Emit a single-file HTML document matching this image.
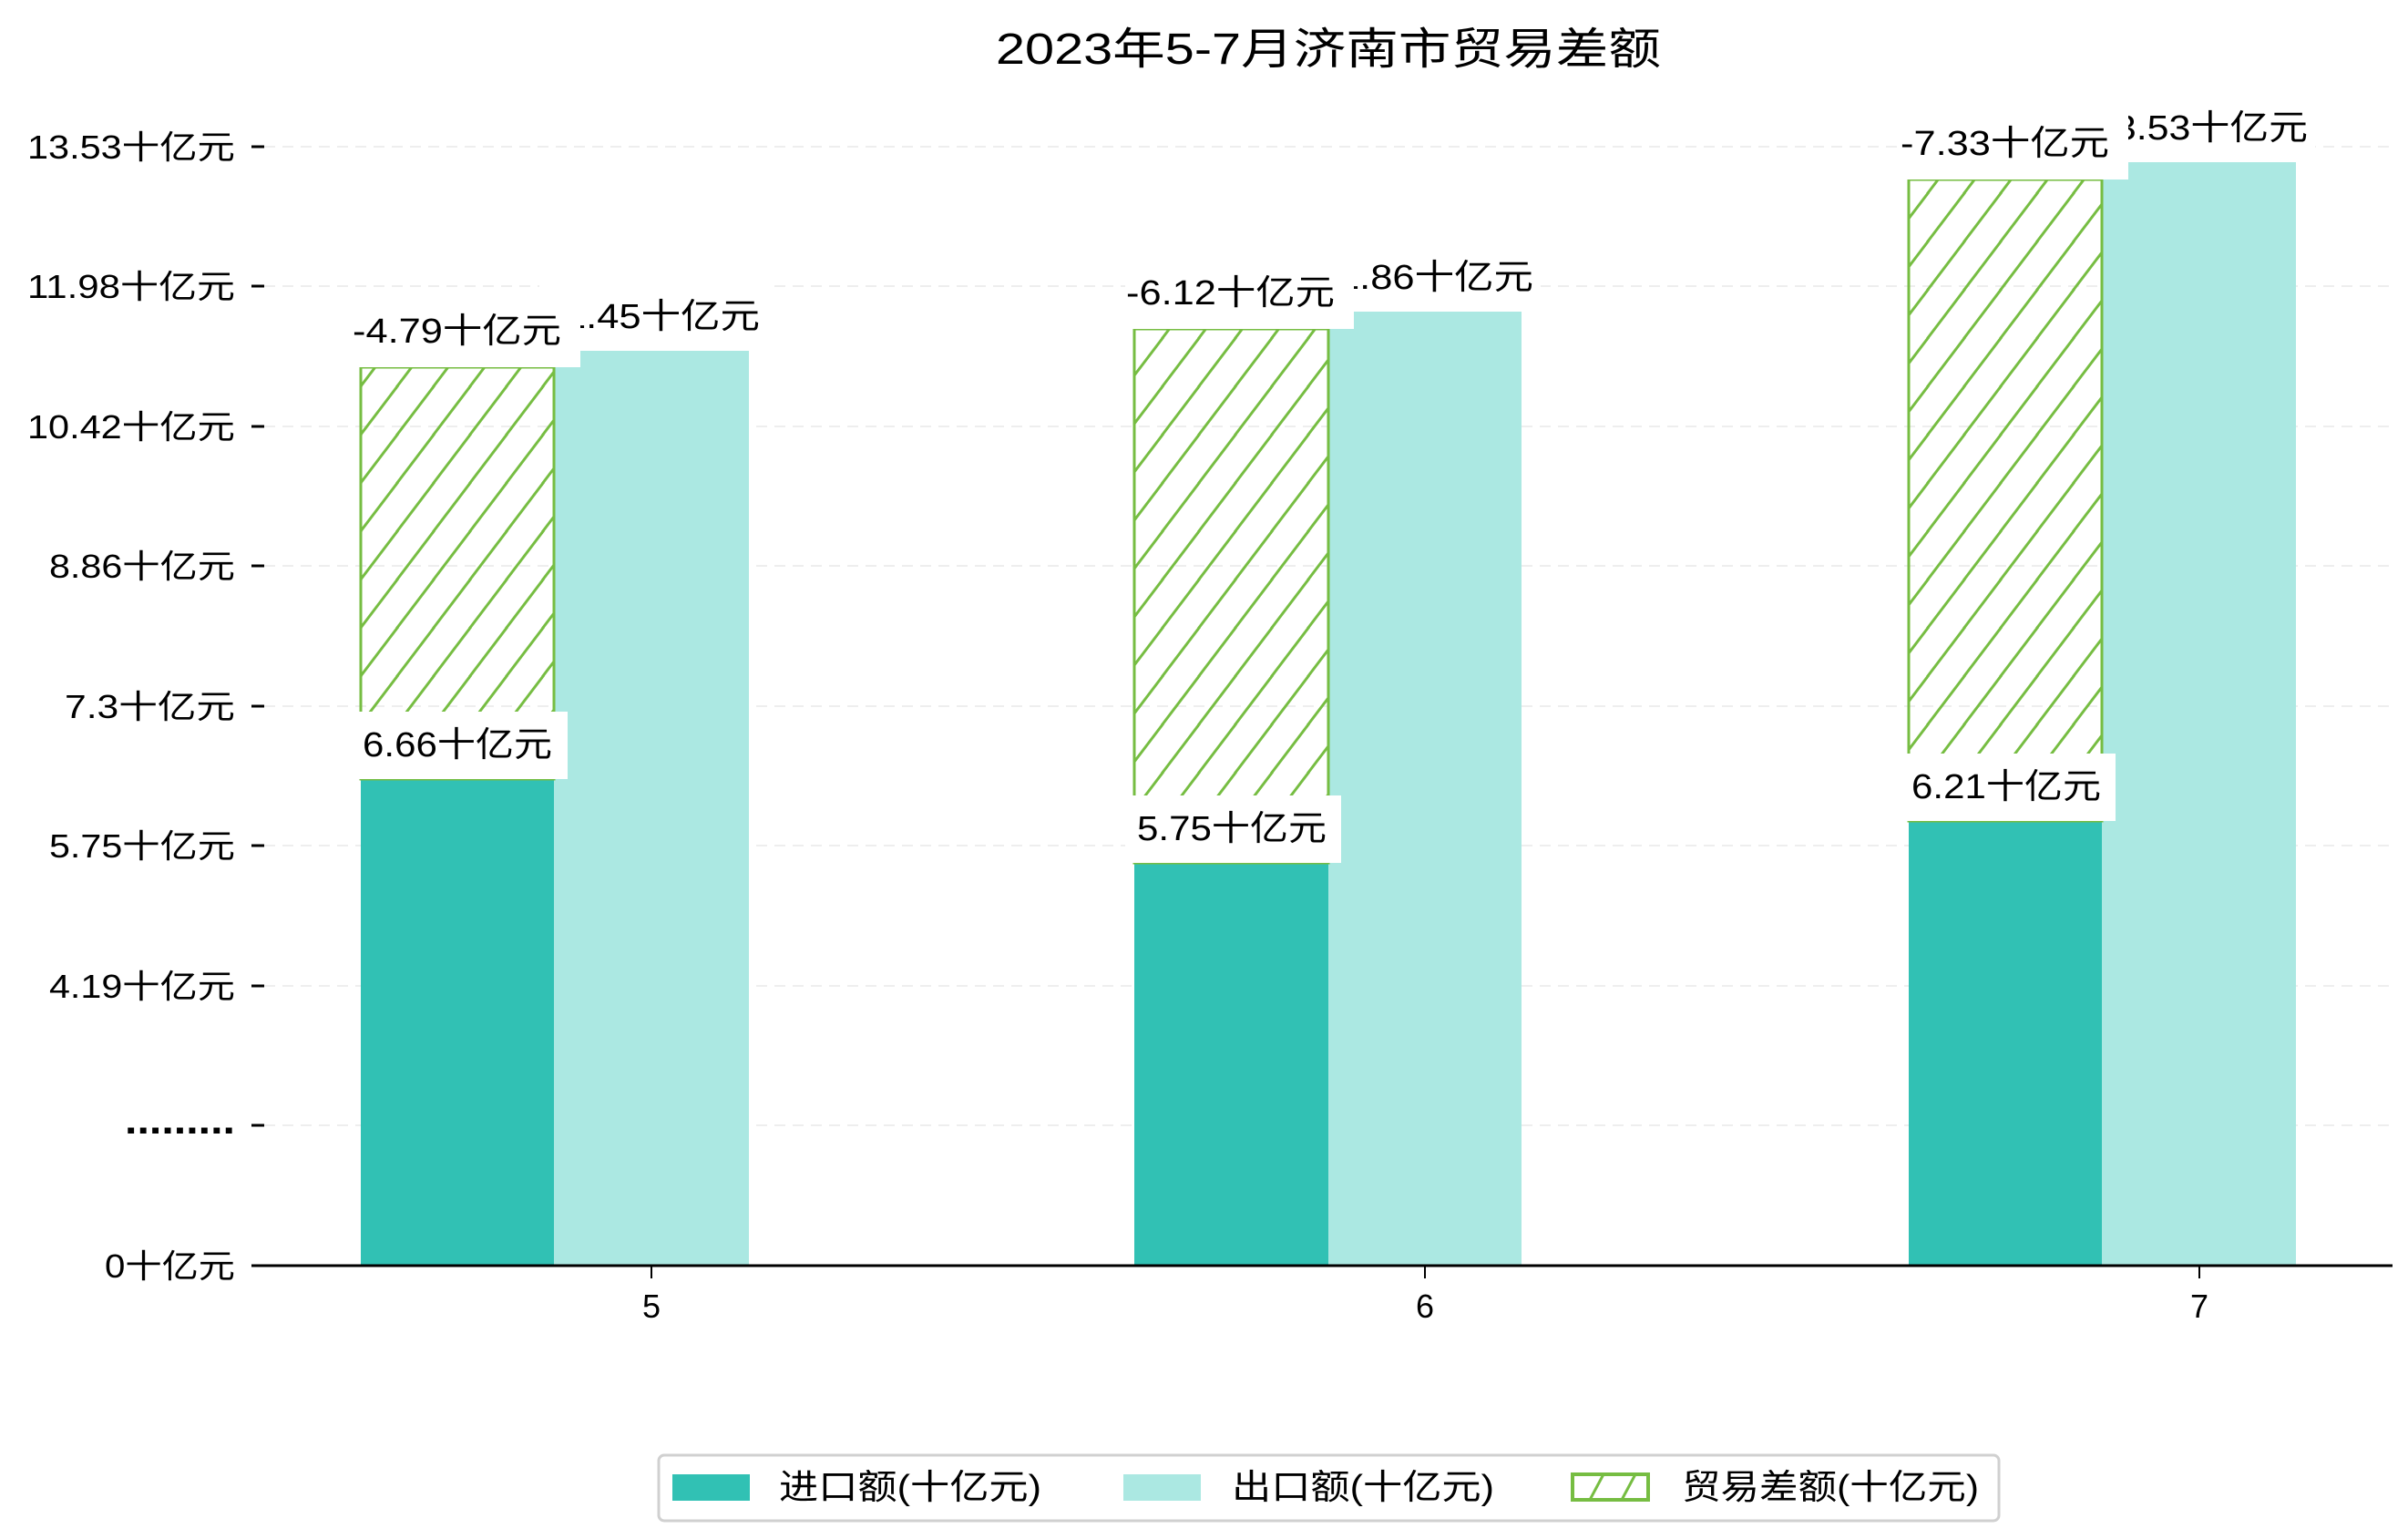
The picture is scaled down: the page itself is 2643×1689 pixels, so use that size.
<!DOCTYPE html>
<html><head><meta charset="utf-8"><style>
html,body{margin:0;padding:0;background:#fff;}
svg{display:block;}
text{font-family:"Liberation Sans","Noto Sans CJK SC",sans-serif;fill:#000;}
</style></head><body>
<svg width="2643" height="1689" viewBox="0 0 2643 1689" xmlns="http://www.w3.org/2000/svg">
<defs>
<pattern id="h" patternUnits="userSpaceOnUse" width="40" height="53" x="396" y="0">
<line x1="-10" y1="66" x2="50" y2="-13" stroke="#76bd42" stroke-width="3"/>
<line x1="-50" y1="66" x2="10" y2="-13" stroke="#76bd42" stroke-width="3"/>
<line x1="30" y1="66" x2="90" y2="-13" stroke="#76bd42" stroke-width="3"/>
</pattern>
</defs>
<rect width="2643" height="1689" fill="#fff"/>
<text x="1093" y="70" font-size="48" textLength="730" lengthAdjust="spacingAndGlyphs">2023年5-7月济南市贸易差额</text>
<g stroke="#eeeeee" stroke-width="2" stroke-dasharray="12,8">
<line x1="290" y1="161" x2="2626" y2="161"/>
<line x1="290" y1="314" x2="2626" y2="314"/>
<line x1="290" y1="468" x2="2626" y2="468"/>
<line x1="290" y1="621" x2="2626" y2="621"/>
<line x1="290" y1="775" x2="2626" y2="775"/>
<line x1="290" y1="928" x2="2626" y2="928"/>
<line x1="290" y1="1082" x2="2626" y2="1082"/>
<line x1="290" y1="1235" x2="2626" y2="1235"/>
</g>
<g stroke="#000" stroke-width="3">
<line x1="276" y1="161" x2="290" y2="161"/>
<line x1="276" y1="314" x2="290" y2="314"/>
<line x1="276" y1="468" x2="290" y2="468"/>
<line x1="276" y1="621" x2="290" y2="621"/>
<line x1="276" y1="775" x2="290" y2="775"/>
<line x1="276" y1="928" x2="290" y2="928"/>
<line x1="276" y1="1082" x2="290" y2="1082"/>
<line x1="276" y1="1235" x2="290" y2="1235"/>
<line x1="276" y1="1389" x2="290" y2="1389"/>
</g>
<g font-size="36" lengthAdjust="spacingAndGlyphs">
<text x="30" y="174" textLength="228" lengthAdjust="spacingAndGlyphs">13.53十亿元</text>
<text x="30" y="327" textLength="228" lengthAdjust="spacingAndGlyphs">11.98十亿元</text>
<text x="30" y="481" textLength="228" lengthAdjust="spacingAndGlyphs">10.42十亿元</text>
<text x="54" y="634" textLength="204" lengthAdjust="spacingAndGlyphs">8.86十亿元</text>
<text x="71" y="788" textLength="187" lengthAdjust="spacingAndGlyphs">7.3十亿元</text>
<text x="54" y="941" textLength="204" lengthAdjust="spacingAndGlyphs">5.75十亿元</text>
<text x="54" y="1095" textLength="204" lengthAdjust="spacingAndGlyphs">4.19十亿元</text>
<text x="137" y="1244" font-size="44" font-weight="bold" textLength="121" lengthAdjust="spacingAndGlyphs">.........</text>
<text x="115" y="1402" textLength="143" lengthAdjust="spacingAndGlyphs">0十亿元</text>
</g>
<rect x="396" y="855" width="212" height="534" fill="#31c1b4"/>
<rect x="608" y="385" width="214" height="1004" fill="#abe8e2"/>
<rect x="396" y="403" width="212" height="452" fill="url(#h)" stroke="#76bd42" stroke-width="3"/>
<rect x="1245" y="947" width="213" height="442" fill="#31c1b4"/>
<rect x="1458" y="342" width="212" height="1047" fill="#abe8e2"/>
<rect x="1245" y="361" width="213" height="586" fill="url(#h)" stroke="#76bd42" stroke-width="3"/>
<rect x="2095" y="901" width="212" height="488" fill="#31c1b4"/>
<rect x="2307" y="178" width="213" height="1211" fill="#abe8e2"/>
<rect x="2095" y="197" width="212" height="704" fill="url(#h)" stroke="#76bd42" stroke-width="3"/>
<line x1="276" y1="1389" x2="2626" y2="1389" stroke="#000" stroke-width="3"/>
<g stroke="#000" stroke-width="2">
<line x1="715" y1="1389" x2="715" y2="1403"/>
<line x1="1564" y1="1389" x2="1564" y2="1403"/>
<line x1="2414" y1="1389" x2="2414" y2="1403"/>
</g>
<g font-size="36" text-anchor="middle">
<text x="715" y="1446">5</text>
<text x="1564" y="1446">6</text>
<text x="2414" y="1446">7</text>
</g>
<g font-size="38">
<rect x="592" y="310" width="250" height="75" fill="#fff"/><text x="598" y="360" textLength="236" lengthAdjust="spacingAndGlyphs">11.45十亿元</text>
<rect x="1441" y="267" width="250" height="75" fill="#fff"/><text x="1447" y="317" textLength="236" lengthAdjust="spacingAndGlyphs">11.86十亿元</text>
<rect x="2291" y="103" width="250" height="75" fill="#fff"/><text x="2297" y="153" textLength="236" lengthAdjust="spacingAndGlyphs">13.53十亿元</text>
<rect x="386" y="781" width="237" height="74" fill="#fff"/><text x="398" y="830" textLength="208" lengthAdjust="spacingAndGlyphs">6.66十亿元</text>
<rect x="1235" y="873" width="237" height="74" fill="#fff"/><text x="1248" y="922" textLength="208" lengthAdjust="spacingAndGlyphs">5.75十亿元</text>
<rect x="2085" y="827" width="237" height="74" fill="#fff"/><text x="2098" y="876" textLength="208" lengthAdjust="spacingAndGlyphs">6.21十亿元</text>
<rect x="386" y="327" width="251" height="76" fill="#fff"/><text x="387" y="376" textLength="229" lengthAdjust="spacingAndGlyphs">-4.79十亿元</text>
<rect x="1235" y="285" width="251" height="76" fill="#fff"/><text x="1236" y="334" textLength="229" lengthAdjust="spacingAndGlyphs">-6.12十亿元</text>
<rect x="2085" y="121" width="251" height="76" fill="#fff"/><text x="2086" y="170" textLength="229" lengthAdjust="spacingAndGlyphs">-7.33十亿元</text>
</g>
<rect x="723" y="1597" width="1471" height="72" rx="6" fill="#fff" stroke="#d0d0d0" stroke-width="3"/>
<rect x="738" y="1618" width="85" height="29" fill="#31c1b4"/>
<rect x="1233" y="1618" width="85" height="29" fill="#abe8e2"/>
<rect x="1726" y="1618" width="83" height="28" fill="#fff" stroke="#76bd42" stroke-width="4"/>
<line x1="1745" y1="1646" x2="1760" y2="1618" stroke="#76bd42" stroke-width="3"/>
<line x1="1780" y1="1646" x2="1795" y2="1618" stroke="#76bd42" stroke-width="3"/>
<g font-size="38">
<text x="855" y="1645" textLength="288" lengthAdjust="spacingAndGlyphs">进口额(十亿元)</text>
<text x="1352" y="1645" textLength="288" lengthAdjust="spacingAndGlyphs">出口额(十亿元)</text>
<text x="1846" y="1645" textLength="326" lengthAdjust="spacingAndGlyphs">贸易差额(十亿元)</text>
</g>
</svg>
</body></html>
